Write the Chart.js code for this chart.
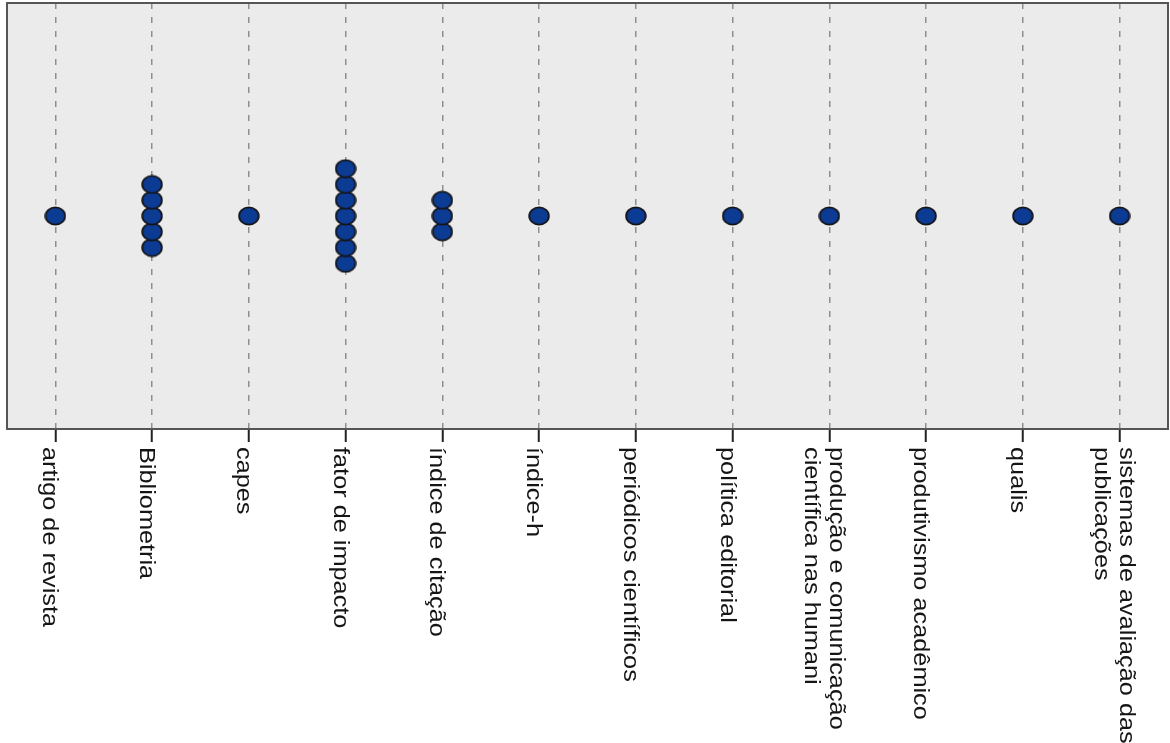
<!DOCTYPE html>
<html>
<head>
<meta charset="utf-8">
<script src="https://cdn.jsdelivr.net/npm/chart.js@4.4.1/dist/chart.umd.min.js"></script>
<style>
  html, body { margin: 0; padding: 0; background: #ffffff; }
  #wrap { width: 1170px; height: 743px; position: relative; }
</style>
</head>
<body>
<div id="wrap"><canvas id="c"></canvas></div>
<script>
// ---- data ----
const categories = [
  'artigo de revista',
  'Bibliometria',
  'capes',
  'fator de impacto',
  'índice de citação',
  'índice-h',
  'periódicos científicos',
  'política editorial',
  ['produção e comunicação', 'científica nas humani'],
  'produtivismo acadêmico',
  'qualis',
  ['sistemas de avaliação das', 'publicações']
];
const counts = [1, 5, 1, 7, 3, 1, 1, 1, 1, 1, 1, 1];

// each case becomes one dot, stacked symmetrically around the centre line
const dots = [];
counts.forEach((n, i) => {
  for (let j = 0; j < n; j++) {
    dots.push({ x: categories[i], y: j - (n - 1) / 2 });
  }
});

function makeDot() {
  const c = document.createElement('canvas');
  c.width = 22; c.height = 20;
  const g = c.getContext('2d');
  g.beginPath();
  g.ellipse(11, 10, 9.8, 8.6, 0, 0, Math.PI * 2);
  g.fillStyle = '#0c3b94';
  g.fill();
  g.lineWidth = 1.8;
  g.strokeStyle = '#141418';
  g.stroke();
  return c;
}

const panelPlugin = {
  id: 'panel',
  beforeDraw(chart) {
    const { ctx, chartArea: a } = chart;
    ctx.save();
    ctx.fillStyle = '#ebebeb';
    ctx.fillRect(a.left, a.top, a.right - a.left, a.bottom - a.top);
    ctx.restore();
  },
  afterDraw(chart) {
    const { ctx, chartArea: a } = chart;
    ctx.save();
    ctx.strokeStyle = '#555555';
    ctx.lineWidth = 2;
    ctx.strokeRect(a.left, a.top, a.right - a.left, a.bottom - a.top);
    ctx.restore();
  }
};

const labelPlugin = {
  id: 'rotLabels',
  afterDraw(chart) {
    const { ctx, chartArea: a } = chart;
    const xs = chart.scales.x;
    const lineH = 25;
    ctx.save();
    ctx.fillStyle = '#151515';
    ctx.font = '22px "Liberation Sans", Arial, sans-serif';
    ctx.textAlign = 'left';
    ctx.textBaseline = 'middle';
    chart.data.labels.forEach((lab, i) => {
      const lines = Array.isArray(lab) ? lab : [lab];
      const n = lines.length;
      const px = xs.getPixelForTick(i);
      const y0 = a.bottom + 18;
      lines.forEach((t, k) => {
        ctx.save();
        ctx.translate(px, y0);
        ctx.rotate(Math.PI / 2);
        ctx.scale(1.15, 1);
        const v = 6 - ((n - 1) / 2 - k) * lineH;
        ctx.fillText(t, 0, v);
        ctx.restore();
      });
    });
    ctx.restore();
  }
};

new Chart(document.getElementById('c'), {
  type: 'scatter',
  data: {
    labels: categories,
    datasets: [{
      data: dots,
      pointStyle: makeDot(),
      pointRadius: 9,
      pointHoverRadius: 9,
      showLine: false
    }]
  },
  options: {
    responsive: true,
    maintainAspectRatio: false,
    animation: false,
    layout: { autoPadding: false, padding: { left: 7, top: 3, right: 2, bottom: 301 } },
    plugins: { legend: { display: false }, tooltip: { enabled: false } },
    scales: {
      x: {
        type: 'category',
        offset: true,
        ticks: { display: false },
        grid: {
          offset: false,
          color: '#8f8f8f',
          lineWidth: 1.5,
          drawTicks: true,
          tickLength: 13,
          tickColor: '#222222',
          tickWidth: 2,
          tickBorderDash: []
        },
        border: { display: false, dash: [6, 8] }
      },
      y: {
        display: false,
        min: -13.5,
        max: 13.5
      }
    }
  },
  plugins: [panelPlugin, labelPlugin]
});
</script>
</body>
</html>
